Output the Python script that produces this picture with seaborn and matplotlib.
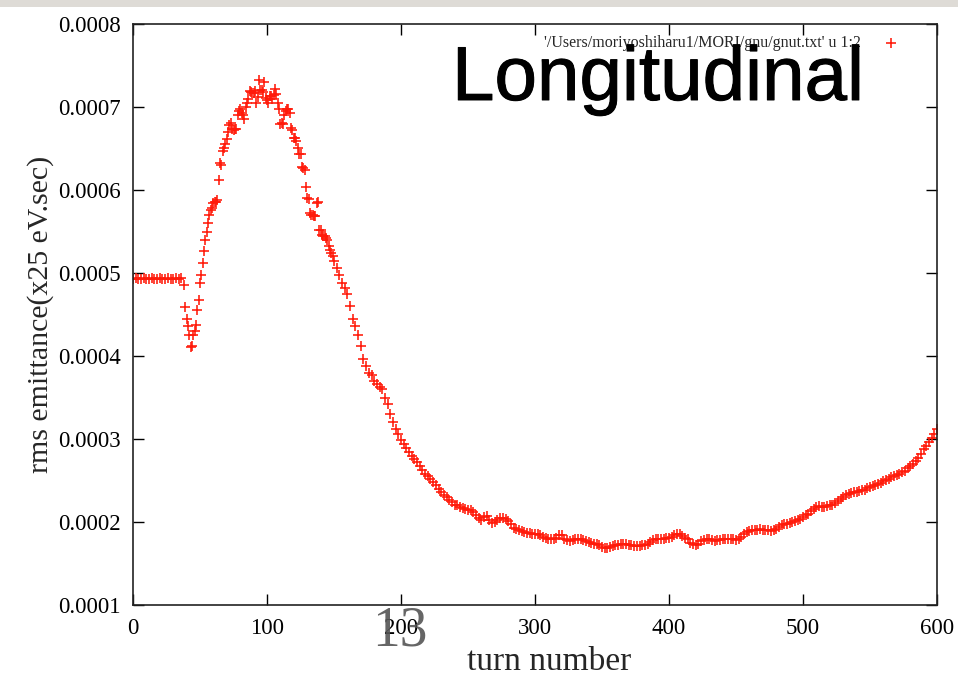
import numpy as np
import pandas as pd
import matplotlib
matplotlib.use("Agg")
import matplotlib.pyplot as plt
from matplotlib.patches import Rectangle
import matplotlib.patheffects as pe
import seaborn as sns

# ---- data (emittance in units of 1e-4), sampled every 2 turns from 0 to 600 ----
emit_even = [
    4.93, 4.94, 4.93, 4.93, 4.94, 4.93, 4.93, 4.94, 4.93, 4.93,
    4.94, 4.93, 4.93, 4.94, 4.93, 4.93, 4.94, 4.93, 4.94, 4.85,
    4.45, 4.25, 4.12, 4.30, 4.55, 4.88, 5.12, 5.40, 5.60, 5.76,
    5.84, 5.86, 6.12, 6.30, 6.50, 6.62, 6.78, 6.73, 6.74, 6.90,
    6.97, 6.90, 7.00, 7.10, 7.18, 7.17, 7.05, 7.33, 7.20, 7.30,
    7.08, 7.13, 7.10, 7.22, 7.05, 6.80, 6.80, 6.95, 6.97, 6.75,
    6.63, 6.59, 6.43, 6.28, 6.24, 5.90, 5.72, 5.70, 5.69, 5.85,
    5.52, 5.45, 5.42, 5.32, 5.24, 5.15, 5.06, 4.97, 4.88, 4.82,
    4.75, 4.60, 4.45, 4.36, 4.25, 4.12, 3.96, 3.88, 3.80, 3.77,
    3.70, 3.66, 3.63, 3.60, 3.50, 3.42, 3.30, 3.20, 3.12, 3.06,
    2.99, 2.94, 2.89, 2.84, 2.80, 2.76, 2.72, 2.68, 2.63, 2.58,
    2.55, 2.52, 2.48, 2.44, 2.40, 2.36, 2.32, 2.30, 2.27, 2.24,
    2.21, 2.20, 2.18, 2.17, 2.16, 2.15, 2.14, 2.12, 2.09, 2.05,
    2.03, 2.06, 2.07, 2.03, 1.99, 2.00, 2.03, 2.05, 2.05, 2.04,
    2.01, 1.97, 1.93, 1.91, 1.90, 1.89, 1.88, 1.87, 1.87, 1.86,
    1.85, 1.85, 1.84, 1.82, 1.81, 1.80, 1.79, 1.79, 1.81, 1.84,
    1.84, 1.80, 1.78, 1.77, 1.78, 1.79, 1.79, 1.79, 1.78, 1.77,
    1.76, 1.75, 1.74, 1.73, 1.72, 1.70, 1.69, 1.69, 1.70, 1.71,
    1.72, 1.72, 1.73, 1.73, 1.73, 1.72, 1.72, 1.71, 1.71, 1.71,
    1.72, 1.72, 1.74, 1.76, 1.78, 1.79, 1.79, 1.79, 1.80, 1.81,
    1.81, 1.82, 1.84, 1.85, 1.85, 1.83, 1.81, 1.79, 1.75, 1.73,
    1.72, 1.74, 1.77, 1.78, 1.79, 1.79, 1.78, 1.77, 1.78, 1.78,
    1.79, 1.80, 1.80, 1.80, 1.79, 1.78, 1.79, 1.82, 1.86, 1.88,
    1.89, 1.90, 1.90, 1.90, 1.91, 1.90, 1.90, 1.90, 1.89, 1.90,
    1.92, 1.94, 1.96, 1.97, 1.98, 1.99, 2.00, 2.01, 2.03, 2.04,
    2.06, 2.08, 2.10, 2.13, 2.16, 2.18, 2.19, 2.18, 2.18, 2.19,
    2.20, 2.21, 2.23, 2.25, 2.28, 2.30, 2.32, 2.34, 2.35, 2.36,
    2.36, 2.37, 2.38, 2.39, 2.41, 2.42, 2.43, 2.45, 2.46, 2.47,
    2.49, 2.51, 2.52, 2.54, 2.55, 2.57, 2.58, 2.60, 2.62, 2.65,
    2.68, 2.70, 2.73, 2.77, 2.82, 2.88, 2.92, 2.96, 3.01, 3.06,
    3.12,
]
turns_even = list(range(0, 601, 2))

# extra readings at odd turns through the noisy peak region
turns_odd = list(range(39, 150, 2))
emit_odd = [
    4.59, 4.36, 4.11, 4.25, 4.37, 4.67, 4.98, 5.26, 5.49, 5.70,
    5.78, 5.85, 5.88, 6.32, 6.47, 6.55, 6.70, 6.81, 6.72, 6.73,
    6.95, 6.93, 6.85, 7.05, 7.19, 7.17, 7.19, 7.12, 7.20, 7.18,
    7.11, 7.05, 7.13, 7.15, 7.16, 6.98, 6.81, 6.90, 6.97, 6.93,
    6.72, 6.63, 6.50, 6.43, 6.27, 6.04, 5.89, 5.70, 5.69, 5.84,
    5.52, 5.46, 5.44, 5.40, 5.28, 5.20,
]

legend_label = "'/Users/moriyoshiharu1/MORI/gnu/gnut.txt' u 1:2"
x_ticks = [0, 100, 200, 300, 400, 500, 600]
y_ticks = [0.0001, 0.0002, 0.0003, 0.0004, 0.0005, 0.0006, 0.0007, 0.0008]
y_ticklabels = ["0.0001", "0.0002", "0.0003", "0.0004", "0.0005", "0.0006", "0.0007", "0.0008"]

df = pd.DataFrame({
    "turn": turns_even + turns_odd,
    "emittance": [v * 1e-4 for v in emit_even] + [v * 1e-4 for v in emit_odd],
})

sns.set_style("ticks")
serif = ["Liberation Serif", "DejaVu Serif"]
plt.rcParams["font.family"] = serif

fig = plt.figure(figsize=(9.58, 6.76), dpi=100)
fig.patches.append(Rectangle((0, 1 - 7 / 676), 1, 7 / 676, transform=fig.transFigure,
                             facecolor="#dedbd6", edgecolor="none", zorder=0))
ax = fig.add_axes([133 / 958, 1 - 605 / 676, (937 - 133) / 958, (605 - 24) / 676])

sns.scatterplot(data=df, x="turn", y="emittance", marker="+", color="#ff1a0a",
                s=62, linewidth=1.15, ax=ax, label=legend_label, legend=False)

ax.set_xlim(0, 600)
ax.set_ylim(0.0001, 0.0008)
ax.set_xticks(x_ticks)
ax.set_xticklabels([str(t) for t in x_ticks])
ax.set_yticks(y_ticks)
ax.set_yticklabels(y_ticklabels)
ax.tick_params(axis="both", direction="in", length=8, width=1, labelsize=16.5,
               top=True, right=True, pad=9, colors="black")
for sp in ax.spines.values():
    sp.set_visible(True)
    sp.set_linewidth(1.2)
    sp.set_color("#222222")

ax.set_xlabel("turn number", fontsize=24)
ax.xaxis.set_label_coords((549 - 133) / 804, (605 - 646) / 581)
ax.set_ylabel("rms emittance(x25 eV.sec)", fontsize=21.5, labelpad=3)

leg = ax.legend(loc="upper right", bbox_to_anchor=(0.975, 0.997), markerfirst=False,
                frameon=False, fontsize=11.5, handletextpad=0.9, borderaxespad=0.2)
for t in leg.get_texts():
    t.set_family(serif)

fig.text(452 / 958, 1 - 100 / 676, "Longitudinal", fontsize=55,
         family=["Liberation Sans", "DejaVu Sans"], color="black", ha="left",
         va="baseline",
         path_effects=[pe.withStroke(linewidth=0.7, foreground="black")])
fig.text(400 / 958, 1 - 645 / 676, "13", fontsize=40, family=serif,
         color="#555555", ha="center", va="baseline", alpha=0.9)

fig.savefig("out.png", dpi=100)
